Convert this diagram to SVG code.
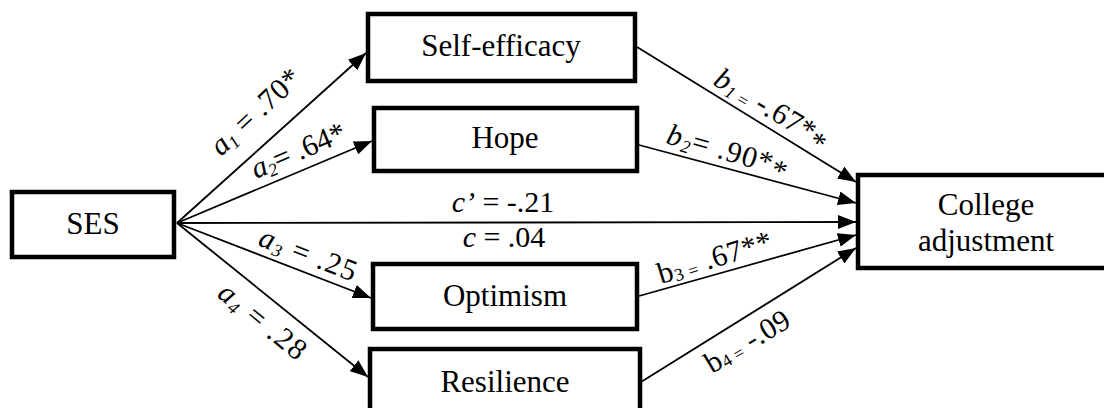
<svg xmlns="http://www.w3.org/2000/svg" width="1104" height="408" viewBox="0 0 1104 408">
<defs>
<marker id="ah" markerUnits="userSpaceOnUse" markerWidth="19" markerHeight="14" refX="18" refY="7" orient="auto"><path d="M0,0 L18,7 L0,14 Z" fill="#000"/></marker>
</defs>
<g id="connectors" stroke="#000" stroke-width="1.8" fill="none" marker-end="url(#ah)">
<line x1="177" y1="223" x2="366" y2="53"/>
<line x1="177" y1="223" x2="372" y2="141"/>
<line x1="177" y1="223" x2="856" y2="222"/>
<line x1="177" y1="223" x2="371" y2="298"/>
<line x1="177" y1="223" x2="368" y2="377"/>
<line x1="637" y1="47" x2="856" y2="182"/>
<line x1="639" y1="145" x2="856" y2="203"/>
<line x1="639" y1="296" x2="856" y2="235"/>
<line x1="641" y1="382" x2="856" y2="248"/>
</g>
<g id="labels" fill="#000">
<text style="font-family:'Times New Roman';font-size:30px" transform="translate(221,157) rotate(-43)" textLength="112"><tspan font-style="italic">a</tspan><tspan font-style="italic" font-size="18" dy="4">1</tspan><tspan dy="-4"> = .70*</tspan></text>
<text style="font-family:'Times New Roman';font-size:30px" transform="translate(256,179) rotate(-23)" textLength="100"><tspan font-style="italic">a</tspan><tspan font-style="italic" font-size="18" dy="4">2</tspan><tspan dy="-4">= .64*</tspan></text>
<text style="font-family:'Times New Roman';font-size:30px" x="503" y="212" text-anchor="middle"><tspan font-style="italic">c&#8217;</tspan> = -.21</text>
<text style="font-family:'Times New Roman';font-size:30px" x="504" y="247" text-anchor="middle"><tspan font-style="italic">c</tspan> = .04</text>
<text style="font-family:'Times New Roman';font-size:30px" transform="translate(257,245) rotate(21)" textLength="102"><tspan font-style="italic">a</tspan><tspan font-style="italic" font-size="18" dy="4">3</tspan><tspan dy="-4"> = .25</tspan></text>
<text style="font-family:'Times New Roman';font-size:30px" transform="translate(216,296) rotate(39)" textLength="104"><tspan font-style="italic">a</tspan><tspan font-style="italic" font-size="18" dy="4">4</tspan><tspan dy="-4"> = .28</tspan></text>
<text style="font-family:'Times New Roman';font-size:30px" transform="translate(712,84) rotate(31)" textLength="128"><tspan font-style="italic">b</tspan><tspan font-style="italic" font-size="18" dy="4">1</tspan><tspan font-size="18"> =</tspan><tspan dy="-4"> -.67*</tspan><tspan dy="6">*</tspan></text>
<text style="font-family:'Times New Roman';font-size:30px" transform="translate(665,143) rotate(16)" textLength="125"><tspan font-style="italic">b</tspan><tspan font-style="italic" font-size="18" dy="4">2</tspan><tspan dy="-4">= .90*</tspan><tspan dy="5">*</tspan></text>
<text style="font-family:'Times New Roman';font-size:30px" transform="translate(661,284) rotate(-17)" textLength="118">b<tspan font-size="18" dy="2">3</tspan><tspan font-size="18"> =</tspan><tspan dy="-2"> .67**</tspan></text>
<text style="font-family:'Times New Roman';font-size:30px" transform="translate(712,374) rotate(-31)" textLength="94">b<tspan font-size="18" dy="2">4</tspan><tspan font-size="18"> =</tspan><tspan dy="-2"> -.09</tspan></text>
</g>
<g id="ses"><rect x="12" y="192" width="162" height="65" fill="#fff" stroke="#000" stroke-width="4.5"/><text style="font-family:'Times New Roman';font-size:31px" text-anchor="middle" x="93" y="234">SES</text></g>
<g id="self-efficacy"><rect x="368" y="14" width="267" height="67" fill="#fff" stroke="#000" stroke-width="4.5"/><text style="font-family:'Times New Roman';font-size:31px" text-anchor="middle" x="501" y="56">Self-efficacy</text></g>
<g id="hope"><rect x="374" y="108" width="263" height="63" fill="#fff" stroke="#000" stroke-width="4.5"/><text style="font-family:'Times New Roman';font-size:31px" text-anchor="middle" x="505" y="148">Hope</text></g>
<g id="optimism"><rect x="373" y="264" width="264" height="65" fill="#fff" stroke="#000" stroke-width="4.5"/><text style="font-family:'Times New Roman';font-size:31px" text-anchor="middle" x="505" y="306">Optimism</text></g>
<g id="resilience"><rect x="370" y="349" width="270" height="70" fill="#fff" stroke="#000" stroke-width="4.5"/><text style="font-family:'Times New Roman';font-size:31px" text-anchor="middle" x="505" y="392">Resilience</text></g>
<g id="college"><rect x="858" y="175" width="260" height="93" fill="#fff" stroke="#000" stroke-width="4.5"/><text style="font-family:'Times New Roman';font-size:31px" text-anchor="middle" x="986" y="215">College</text><text style="font-family:'Times New Roman';font-size:31px" text-anchor="middle" x="986" y="251">adjustment</text></g>
</svg>
